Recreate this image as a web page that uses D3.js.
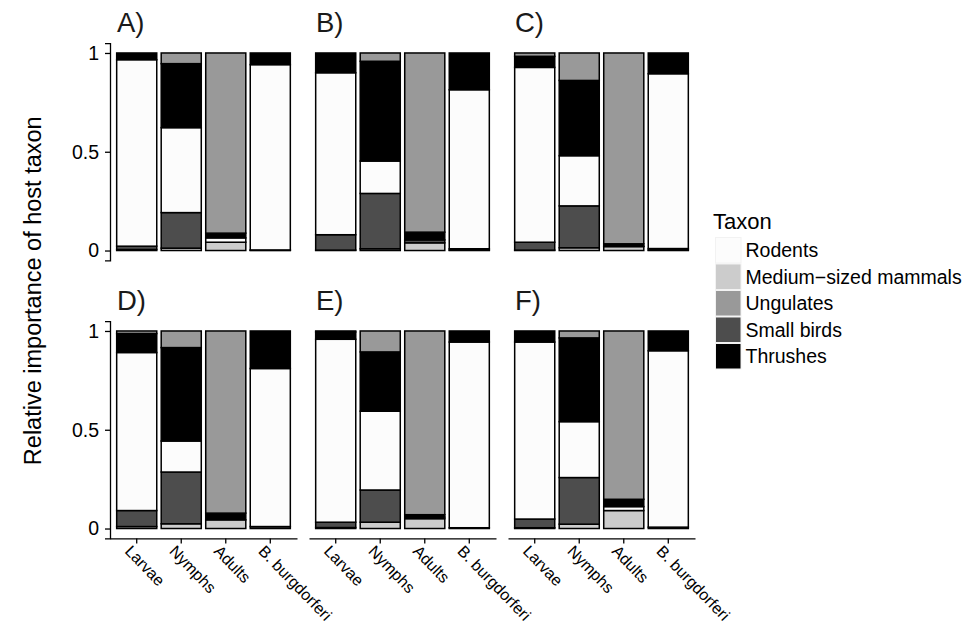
<!DOCTYPE html>
<html>
<head>
<meta charset="utf-8">
<script src="https://cdn.jsdelivr.net/npm/d3@7"></script>
<style>
  html, body { margin: 0; padding: 0; background: #fff; }
  svg { display: block; font-family: "Liberation Sans", Arial, sans-serif; }
</style>
</head>
<body>
<svg id="chart" width="976" height="627"></svg>
<script>
// Panels (A–F) and the four tick groups in each panel
const panels = ["A)", "B)", "C)", "D)", "E)", "F)"];
const stages = ["Larvae", "Nymphs", "Adults", "B. burgdorferi"];

// Legend order of host taxa
const taxa = ["Rodents", "Medium\u2212sized mammals", "Ungulates", "Small birds", "Thrushes"];
const taxonFill = ["#fcfcfc", "#cccccc", "#999999", "#4d4d4d", "#000000"];
// Stacking order from the bottom of each bar upward
const stackOrder = ["Medium\u2212sized mammals", "Small birds", "Rodents", "Thrushes", "Ungulates"];

// Relative importance per panel (rows A–F), per stage (Larvae, Nymphs, Adults, B. burgdorferi)
const rodents = [
  [0.944, 0.430, 0.022, 0.938],
  [0.820, 0.164, 0.000, 0.805],
  [0.885, 0.254, 0.002, 0.885],
  [0.800, 0.157, 0.000, 0.800],
  [0.926, 0.399, 0.000, 0.940],
  [0.896, 0.283, 0.020, 0.893]
];
const mediumMammals = [
  [0.005, 0.012, 0.042, 0.001],
  [0.002, 0.009, 0.039, 0.002],
  [0.002, 0.014, 0.020, 0.002],
  [0.010, 0.024, 0.044, 0.000],
  [0.005, 0.032, 0.050, 0.000],
  [0.004, 0.022, 0.091, 0.000]
];
const ungulates = [
  [0.000, 0.054, 0.912, 0.000],
  [0.000, 0.042, 0.907, 0.000],
  [0.017, 0.139, 0.966, 0.000],
  [0.013, 0.084, 0.922, 0.000],
  [0.005, 0.106, 0.930, 0.000],
  [0.000, 0.035, 0.852, 0.000]
];
const smallBirds = [
  [0.017, 0.180, 0.000, 0.002],
  [0.078, 0.280, 0.015, 0.007],
  [0.040, 0.212, 0.000, 0.008],
  [0.081, 0.262, 0.000, 0.010],
  [0.027, 0.163, 0.008, 0.004],
  [0.044, 0.236, 0.000, 0.007]
];
const thrushes = [
  [0.034, 0.324, 0.024, 0.059],
  [0.100, 0.505, 0.039, 0.186],
  [0.056, 0.381, 0.012, 0.105],
  [0.096, 0.473, 0.034, 0.190],
  [0.037, 0.300, 0.012, 0.056],
  [0.056, 0.424, 0.037, 0.100]
];

const yTicks = [0, 0.5, 1];
const yTickLabels = ["0", "0.5", "1"];

const valuesByTaxon = {
  "Rodents": rodents,
  "Medium\u2212sized mammals": mediumMammals,
  "Ungulates": ungulates,
  "Small birds": smallBirds,
  "Thrushes": thrushes
};

const svg = d3.select("#chart");
const fill = d3.scaleOrdinal().domain(taxa).range(taxonFill);

// Facet grid geometry: 2 rows x 3 columns
const panelW = 187, colGap = 12, firstLeft = 110;
const rowTops = [43.1, 321.1];
const panelH = 217.3;

panels.forEach((label, p) => {
  const col = p % 3, row = Math.floor(p / 3);
  const left = firstLeft + col * (panelW + colGap);
  const top = rowTops[row];

  const x = d3.scaleBand().domain(stages).range([left, left + panelW])
    .paddingInner(0.1).paddingOuter(0.15);
  const y = d3.scaleLinear().domain([-0.05, 1.05]).range([top + panelH, top]);

  // one row of records per stage for d3.stack
  const rows = stages.map((s, i) => {
    const r = { stage: s };
    taxa.forEach(t => { r[t] = valuesByTaxon[t][p][i]; });
    return r;
  });
  const series = d3.stack().keys(stackOrder)(rows);

  const g = svg.append("g");
  series.forEach(s => {
    g.selectAll(null)
      .data(s.filter(d => d[1] - d[0] > 0))
      .join("rect")
      .attr("x", d => x(d.data.stage))
      .attr("width", x.bandwidth())
      .attr("y", d => y(d[1]))
      .attr("height", d => y(d[0]) - y(d[1]))
      .attr("fill", fill(s.key))
      .attr("stroke", "#000")
      .attr("stroke-width", 1.5);
  });

  // panel tag
  svg.append("text")
    .attr("x", left + 7)
    .attr("y", top - 11)
    .attr("font-size", 27.5)
    .attr("fill", "#1a1a1a")
    .text(label);

  // y axis on the left column only
  if (col === 0) {
    const ax = svg.append("g")
      .attr("transform", `translate(${left},0)`)
      .call(d3.axisLeft(y).tickValues(yTicks)
        .tickFormat((d, i) => yTickLabels[i]).tickSize(5).tickPadding(6));
    ax.select(".domain").attr("stroke-width", 1.3);
    ax.selectAll(".tick line").attr("stroke-width", 1.3);
    ax.selectAll("text").attr("font-size", 19.5).attr("fill", "#000")
      .attr("font-family", "Liberation Sans, Arial, sans-serif");
  }

  // x axis on the bottom row only
  if (row === 1) {
    const ax = svg.append("g")
      .attr("transform", `translate(0,${top + panelH})`)
      .call(d3.axisBottom(x).tickSize(5).tickSizeOuter(0));
    ax.select(".domain").attr("stroke-width", 1.3);
    ax.selectAll(".tick line").attr("stroke-width", 1.3);
    ax.selectAll("text")
      .attr("font-size", 16)
      .attr("fill", "#000")
      .attr("font-family", "Liberation Sans, Arial, sans-serif")
      .attr("text-anchor", "start")
      .attr("transform", "translate(-7,8) rotate(46)")
      .attr("dy", "0.5em")
      .attr("y", 0)
      .attr("x", 0);
  }
});

// y axis title
svg.append("text")
  .attr("transform", `translate(41,${(rowTops[0] + rowTops[1] + panelH) / 2}) rotate(-90)`)
  .attr("text-anchor", "middle")
  .attr("font-size", 23.5)
  .attr("fill", "#000")
  .text("Relative importance of host taxon");

// legend
const legend = svg.append("g").attr("transform", "translate(715,237)");
legend.append("text")
  .attr("x", -2).attr("y", -8)
  .attr("font-size", 22)
  .attr("fill", "#000")
  .text("Taxon");
const keySize = 26.5;
taxa.forEach((t, i) => {
  legend.append("rect")
    .attr("x", 0).attr("y", i * keySize)
    .attr("width", keySize).attr("height", keySize)
    .attr("fill", "#f2f2f2");
  legend.append("rect")
    .attr("x", 1).attr("y", i * keySize + 1)
    .attr("width", keySize - 2).attr("height", keySize - 2)
    .attr("fill", fill(t));
  legend.append("text")
    .attr("x", keySize + 4).attr("y", i * keySize + keySize / 2)
    .attr("dy", "0.35em")
    .attr("font-size", 19.5)
    .attr("fill", "#000")
    .text(t);
});
</script>
</body>
</html>
